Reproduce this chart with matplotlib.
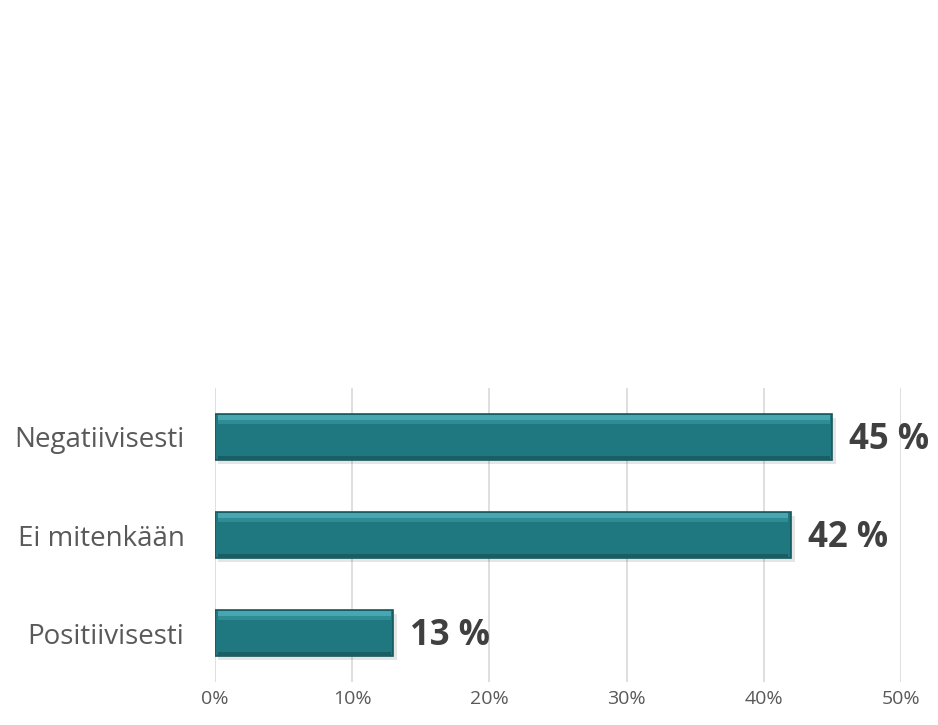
import matplotlib
matplotlib.use("Agg")
import matplotlib.pyplot as plt
from matplotlib.ticker import FuncFormatter

categories = ["Negatiivisesti", "Ei mitenkään", "Positiivisesti"]
values = [45, 42, 13]
xticks = [0, 10, 20, 30, 40, 50]

plt.rcParams['font.family'] = ['Open Sans', 'DejaVu Sans']

fig = plt.figure(figsize=(9.38, 7.25), dpi=100)
ax = fig.add_axes([215/938, (725-682)/725, (901-215)/938, (682-388)/725])

ypos = list(range(len(categories)))
h = 0.47
# shadow
ax.barh([y + 0.04 for y in ypos], values, height=h, left=0.25, color="#000000", alpha=0.10, zorder=2)
ax.barh(ypos, values, height=h, color="#1F7880", edgecolor="#17585E", linewidth=1.2, zorder=3)
# bevel highlight on top edge
ax.barh([y - h/2 + 0.035 for y in ypos], [v - 0.4 for v in values], height=0.05, left=0.2,
        color="#4FAFB8", linewidth=0, zorder=4, alpha=0.85)
ax.barh([y - h/2 + 0.08 for y in ypos], [v - 0.4 for v in values], height=0.04, left=0.2,
        color="#3A99A2", linewidth=0, zorder=4, alpha=0.6)
# bevel darker bottom
ax.barh([y + h/2 - 0.025 for y in ypos], [v - 0.4 for v in values], height=0.04, left=0.2,
        color="#185F65", linewidth=0, zorder=4)

for y, v in zip(ypos, values):
    ax.text(v + 1.2, y + 0.03, f"{v} %", va="center", ha="left", fontsize=25, fontweight="bold", color="#404040")

ax.set_xlim(0, 50)
ax.set_ylim(len(categories) - 0.5, -0.5)
ax.set_xticks(xticks)
ax.xaxis.set_major_formatter(FuncFormatter(lambda x, p: f"{int(x)}%"))
ax.set_yticks(ypos)
ax.set_yticklabels(categories)
ax.tick_params(axis='y', length=0, pad=22, labelsize=20, labelcolor="#595959")
ax.tick_params(axis='x', length=0, pad=6, labelsize=14, labelcolor="#595959")
ax.grid(axis='x', color="#D9D9D9", linewidth=1.2, zorder=0)
ax.set_axisbelow(True)
for s in ax.spines.values():
    s.set_visible(False)

fig.savefig("out.png", dpi=100)
